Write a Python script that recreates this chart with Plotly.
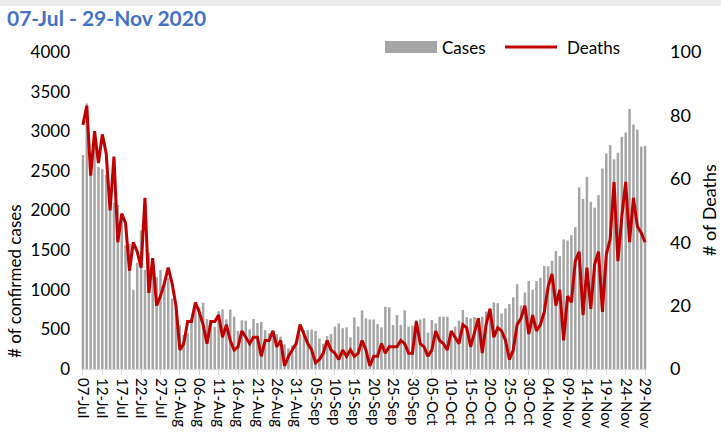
import pandas as pd
import plotly.graph_objects as go

dates = pd.date_range("2020-07-07", "2020-11-29", freq="D")
categories = [d.strftime("%d-%b") for d in dates]
tick_labels = categories[::5]

cases = [2700, 3350, 2650, 2800, 2550, 2520, 2450, 2160, 2100, 2070,
         1950, 1560, 1580, 1000, 1340, 1750, 1250, 1470, 1300, 1160,
         1250, 1100, 1150, 890, 800, 550, 430, 450, 640, 785,
         775, 836, 630, 615, 533, 730, 750, 625, 750, 660,
         480, 615, 610, 500, 630, 580, 595, 490, 450, 490,
         440, 410, 310, 260, 300, 320, 440, 490, 490, 500,
         480, 385, 320, 415, 440, 535, 575, 515, 525, 400,
         650, 535, 740, 640, 625, 625, 565, 525, 785, 780,
         555, 680, 555, 740, 535, 545, 618, 625, 640, 458,
         618, 575, 660, 660, 660, 450, 535, 610, 745, 655,
         640, 655, 560, 660, 725, 725, 840, 830, 700, 765,
         820, 905, 1070, 800, 965, 1110, 1000, 1110, 1150, 1300,
         1295, 1365, 1490, 1425, 1635, 1620, 1690, 1790, 2290, 2145,
         2425, 2110, 2035, 2195, 2530, 2720, 2825, 2645, 2730, 2930,
         2985, 3280, 3085, 3020, 2805, 2815]

deaths = [77, 83, 61, 75, 65, 74, 68, 50, 67, 40,
          49, 46, 31, 40, 37, 32, 54, 24, 35, 20,
          23, 27, 32, 27, 20, 6, 8, 15, 15, 21,
          18, 14, 8, 15, 15, 17, 10, 14, 9, 6,
          7, 12, 10, 8, 10, 10, 4, 9, 9, 12,
          7, 9, 1, 4, 6, 8, 14, 11, 8, 6,
          2, 3, 5, 9, 6, 5, 3, 6, 4, 6,
          4, 5, 9, 6, 1, 4, 4, 8, 5, 7,
          7, 7, 9, 8, 5, 5, 15, 8, 7, 4,
          6, 12, 9, 8, 6, 12, 10, 8, 14, 13,
          7, 12, 16, 5, 14, 19, 10, 13, 12, 9,
          3, 6, 14, 16, 20, 11, 17, 12, 14, 18,
          26, 30, 20, 25, 9, 23, 21, 34, 37, 17,
          32, 19, 33, 37, 18, 36, 41, 59, 34, 48,
          59, 40, 54, 45, 43, 40]

assert len(cases) == len(categories) == len(deaths)

FONT = "Lato"
W, H = 721, 434
L, R, T, B = 81, 74, 52, 65
PW, PH = W - L - R, H - T - B


def px(x):
    return (x - L) / PW


def py(y):
    return (H - B - y) / PH


fig = go.Figure()
fig.add_trace(go.Bar(x=categories, y=cases, name="Cases",
                     marker=dict(color="#A6A6A6", line=dict(width=0)),
                     showlegend=False))
fig.add_trace(go.Scatter(x=categories, y=deaths, name="Deaths", yaxis="y2",
                         mode="lines", line=dict(color="#C00000", width=3),
                         showlegend=False))

fig.update_layout(
    width=W, height=H,
    margin=dict(l=L, r=R, t=T, b=B, autoexpand=False),
    paper_bgcolor="white", plot_bgcolor="white",
    bargap=0.35,
    font=dict(family=FONT, color="#000000"),
    title=dict(text="<b>07-Jul - 29-Nov 2020</b>", xref="container", yref="container",
               x=7 / W, xanchor="left", y=1 - 19 / H, yanchor="middle",
               font=dict(family=FONT, size=21, color="#4472C4")),
    xaxis=dict(type="category", tickmode="array", tickvals=tick_labels, ticktext=tick_labels,
               tickangle=90, tickfont=dict(size=15, family=FONT, color="#000000"),
               showline=True, linecolor="#D9D9D9", linewidth=1,
               ticks="outside", ticklen=5, tickcolor="#D9D9D9",
               showgrid=False, zeroline=False, automargin=False),
    yaxis=dict(range=[0, 4000], dtick=500, showgrid=False, zeroline=False, showline=False,
               tickfont=dict(size=17, family=FONT, color="#000000"),
               ticklabelstandoff=10, automargin=False),
    yaxis2=dict(range=[0, 100], dtick=20, overlaying="y", side="right",
                showgrid=False, zeroline=False, showline=False,
                tickfont=dict(size=18, family=FONT, color="#000000"),
                ticklabelstandoff=22, automargin=False),
    shapes=[
        dict(type="rect", xref="paper", yref="paper", x0=-1, x1=2,
             y0=py(0), y1=py(6), fillcolor="#EBEBEB", line=dict(width=0), layer="below"),
        dict(type="rect", xref="paper", yref="paper", x0=px(385), x1=px(437),
             y0=py(53), y1=py(41), fillcolor="#A6A6A6", line=dict(width=0)),
        dict(type="line", xref="paper", yref="paper", x0=px(505), x1=px(557),
             y0=py(47), y1=py(47), line=dict(color="#C00000", width=3)),
    ],
    annotations=[
        dict(text="Cases", xref="paper", yref="paper", x=px(440), y=py(47),
             xanchor="left", yanchor="middle", showarrow=False,
             font=dict(size=17, family=FONT, color="#000000")),
        dict(text="Deaths", xref="paper", yref="paper", x=px(565), y=py(47),
             xanchor="left", yanchor="middle", showarrow=False,
             font=dict(size=17, family=FONT, color="#000000")),
        dict(text="# of confirmed cases", xref="paper", yref="paper", x=px(14), y=py(281),
             xanchor="center", yanchor="middle", textangle=-90, showarrow=False,
             font=dict(size=17, family=FONT, color="#000000")),
        dict(text="# of Deaths", xref="paper", yref="paper", x=px(709), y=py(210),
             xanchor="center", yanchor="middle", textangle=-90, showarrow=False,
             font=dict(size=18, family=FONT, color="#000000")),
    ],
)

fig.write_html("out.html", config={"displayModeBar": False},
               post_script="document.body.style.margin='0';")
